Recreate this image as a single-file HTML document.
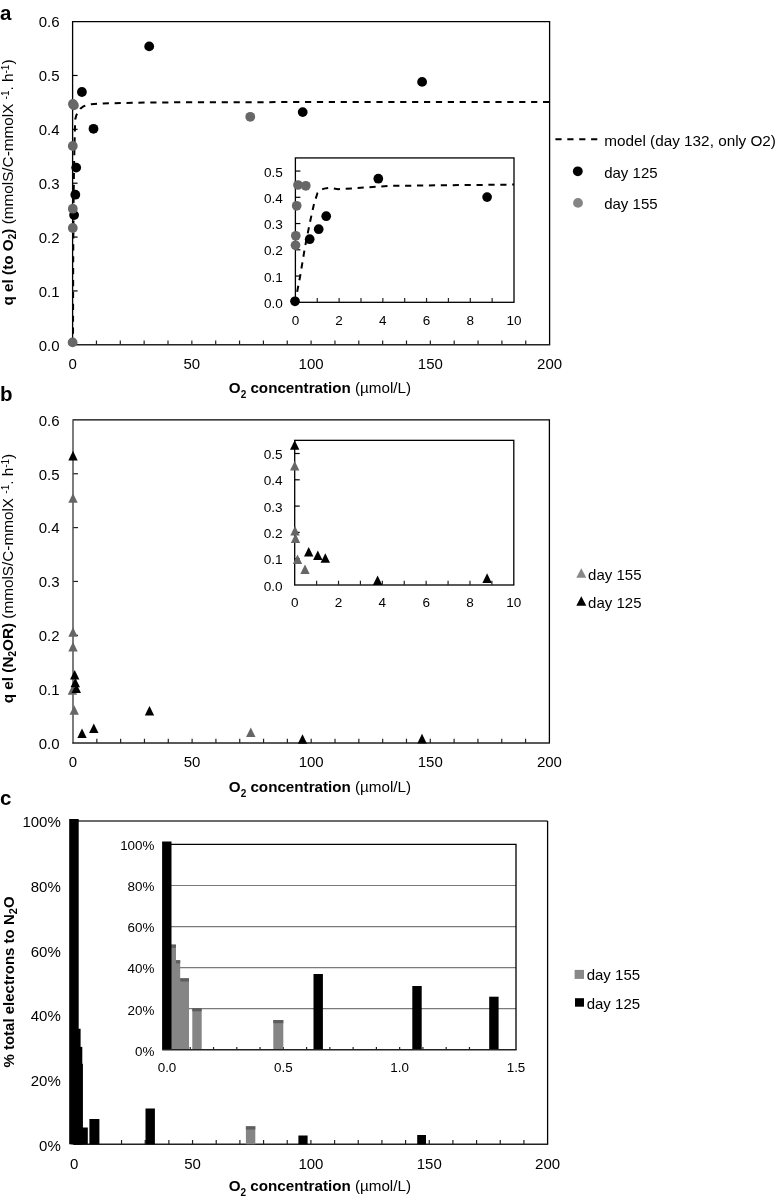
<!DOCTYPE html>
<html><head><meta charset="utf-8"><style>
html,body{margin:0;padding:0;background:#fff;}
svg{display:block;font-family:"Liberation Sans", sans-serif;will-change:transform;}
</style></head><body>
<svg width="780" height="1200" viewBox="0 0 780 1200">
<rect width="780" height="1200" fill="#fff"/>
<text x="0.1" y="19.6" font-size="20.5" text-anchor="start" font-weight="bold" fill="#000" >a</text>
<text x="59.6" y="350.6" font-size="15" text-anchor="end" font-weight="normal" fill="#000" >0.0</text>
<text x="59.6" y="296.73" font-size="15" text-anchor="end" font-weight="normal" fill="#000" >0.1</text>
<line x1="72.6" y1="290.93" x2="77.6" y2="290.93" stroke="#000" stroke-width="1.2" />
<text x="59.6" y="242.87" font-size="15" text-anchor="end" font-weight="normal" fill="#000" >0.2</text>
<line x1="72.6" y1="237.07" x2="77.6" y2="237.07" stroke="#000" stroke-width="1.2" />
<text x="59.6" y="189" font-size="15" text-anchor="end" font-weight="normal" fill="#000" >0.3</text>
<line x1="72.6" y1="183.2" x2="77.6" y2="183.2" stroke="#000" stroke-width="1.2" />
<text x="59.6" y="135.13" font-size="15" text-anchor="end" font-weight="normal" fill="#000" >0.4</text>
<line x1="72.6" y1="129.33" x2="77.6" y2="129.33" stroke="#000" stroke-width="1.2" />
<text x="59.6" y="81.27" font-size="15" text-anchor="end" font-weight="normal" fill="#000" >0.5</text>
<line x1="72.6" y1="75.47" x2="77.6" y2="75.47" stroke="#000" stroke-width="1.2" />
<text x="59.6" y="27.4" font-size="15" text-anchor="end" font-weight="normal" fill="#000" >0.6</text>
<line x1="96.45" y1="344.8" x2="96.45" y2="340.5" stroke="#222" stroke-width="1.2" />
<line x1="120.3" y1="344.8" x2="120.3" y2="340.5" stroke="#222" stroke-width="1.2" />
<line x1="144.15" y1="344.8" x2="144.15" y2="340.5" stroke="#222" stroke-width="1.2" />
<line x1="168" y1="344.8" x2="168" y2="340.5" stroke="#222" stroke-width="1.2" />
<line x1="191.85" y1="344.8" x2="191.85" y2="340.5" stroke="#222" stroke-width="1.2" />
<line x1="215.7" y1="344.8" x2="215.7" y2="340.5" stroke="#222" stroke-width="1.2" />
<line x1="239.55" y1="344.8" x2="239.55" y2="340.5" stroke="#222" stroke-width="1.2" />
<line x1="263.4" y1="344.8" x2="263.4" y2="340.5" stroke="#222" stroke-width="1.2" />
<line x1="287.25" y1="344.8" x2="287.25" y2="340.5" stroke="#222" stroke-width="1.2" />
<line x1="311.1" y1="344.8" x2="311.1" y2="340.5" stroke="#222" stroke-width="1.2" />
<line x1="334.95" y1="344.8" x2="334.95" y2="340.5" stroke="#222" stroke-width="1.2" />
<line x1="358.8" y1="344.8" x2="358.8" y2="340.5" stroke="#222" stroke-width="1.2" />
<line x1="382.65" y1="344.8" x2="382.65" y2="340.5" stroke="#222" stroke-width="1.2" />
<line x1="406.5" y1="344.8" x2="406.5" y2="340.5" stroke="#222" stroke-width="1.2" />
<line x1="430.35" y1="344.8" x2="430.35" y2="340.5" stroke="#222" stroke-width="1.2" />
<line x1="454.2" y1="344.8" x2="454.2" y2="340.5" stroke="#222" stroke-width="1.2" />
<line x1="478.05" y1="344.8" x2="478.05" y2="340.5" stroke="#222" stroke-width="1.2" />
<line x1="501.9" y1="344.8" x2="501.9" y2="340.5" stroke="#222" stroke-width="1.2" />
<line x1="525.75" y1="344.8" x2="525.75" y2="340.5" stroke="#222" stroke-width="1.2" />
<text x="72.6" y="369.4" font-size="15" text-anchor="middle" font-weight="normal" fill="#000" >0</text>
<text x="191.85" y="369.4" font-size="15" text-anchor="middle" font-weight="normal" fill="#000" >50</text>
<text x="311.1" y="369.4" font-size="15" text-anchor="middle" font-weight="normal" fill="#000" >100</text>
<text x="430.35" y="369.4" font-size="15" text-anchor="middle" font-weight="normal" fill="#000" >150</text>
<text x="549.6" y="369.4" font-size="15" text-anchor="middle" font-weight="normal" fill="#000" >200</text>
<path d="M72.6,344.8 L72.6,21.6 L549.6,21.6 L549.6,344.8" fill="none" stroke="#000" stroke-width="1.3"/>
<line x1="72" y1="344.8" x2="550.2" y2="344.8" stroke="#222" stroke-width="1.4" />
<text x="228.8" y="392.8" font-size="15.2"><tspan font-weight="bold">O<tspan font-size="10" dy="4.8">2</tspan><tspan dy="-4.8"> concentration</tspan></tspan> (µmol/L)</text>
<text transform="translate(12.9,182.5) rotate(-90)" font-size="15.3" text-anchor="middle"><tspan font-weight="bold">q el (to O<tspan font-size="10" dy="3.5">2</tspan><tspan dy="-3.5">)</tspan></tspan> (mmolS/C-mmolX <tspan font-size="10" dy="-4.4">-1</tspan><tspan dy="4.4">. h</tspan><tspan font-size="10" dy="-4.4">-1</tspan><tspan dy="4.4">)</tspan></text>
<path d="M73,344.8 L73.2,260 L73.6,200 L74,170 L74.5,145 L74.9,130 L75.2,119.5 L76.2,115.5 L77.6,112.6 L80.3,108.6 L83,106.6 L85.7,105.5 L91.2,104.3 L97.6,103.75 L103,103.5 L109.8,103.3 L150,102.5 L200,102.2 L300,102.1 L549.6,101.9" fill="none" stroke="#000" stroke-width="2" stroke-dasharray="6.2,5.7" stroke-dashoffset="0.87"/>
<circle cx="74.1" cy="215.1" r="4.9" fill="#000"/>
<circle cx="75.3" cy="194.7" r="4.9" fill="#000"/>
<circle cx="76.2" cy="167.6" r="4.9" fill="#000"/>
<circle cx="81.9" cy="92" r="4.9" fill="#000"/>
<circle cx="93.5" cy="128.8" r="4.9" fill="#000"/>
<circle cx="149.2" cy="46.4" r="4.9" fill="#000"/>
<circle cx="302.7" cy="112.1" r="4.9" fill="#000"/>
<circle cx="422.1" cy="81.9" r="4.9" fill="#000"/>
<circle cx="72.6" cy="342.4" r="4.9" fill="#676767"/>
<circle cx="72.8" cy="228" r="4.9" fill="#676767"/>
<circle cx="72.8" cy="208.7" r="4.9" fill="#676767"/>
<circle cx="72.8" cy="146" r="4.9" fill="#676767"/>
<circle cx="72.9" cy="104" r="4.9" fill="#676767"/>
<circle cx="73.9" cy="105.4" r="4.9" fill="#676767"/>
<circle cx="250.25" cy="116.8" r="4.9" fill="#676767"/>
<rect x="295.4" y="157.93" width="218.6" height="144.38" fill="#fff" stroke="#000" stroke-width="1.3"/>
<text x="282.8" y="307.9" font-size="13.6" text-anchor="end" font-weight="normal" fill="#000" >0.0</text>
<text x="282.8" y="281.65" font-size="13.6" text-anchor="end" font-weight="normal" fill="#000" >0.1</text>
<line x1="295.4" y1="276.05" x2="300.4" y2="276.05" stroke="#000" stroke-width="1.2" />
<text x="282.8" y="255.4" font-size="13.6" text-anchor="end" font-weight="normal" fill="#000" >0.2</text>
<line x1="295.4" y1="249.8" x2="300.4" y2="249.8" stroke="#000" stroke-width="1.2" />
<text x="282.8" y="229.15" font-size="13.6" text-anchor="end" font-weight="normal" fill="#000" >0.3</text>
<line x1="295.4" y1="223.55" x2="300.4" y2="223.55" stroke="#000" stroke-width="1.2" />
<text x="282.8" y="202.9" font-size="13.6" text-anchor="end" font-weight="normal" fill="#000" >0.4</text>
<line x1="295.4" y1="197.3" x2="300.4" y2="197.3" stroke="#000" stroke-width="1.2" />
<text x="282.8" y="176.65" font-size="13.6" text-anchor="end" font-weight="normal" fill="#000" >0.5</text>
<line x1="295.4" y1="171.05" x2="300.4" y2="171.05" stroke="#000" stroke-width="1.2" />
<line x1="317.26" y1="302.3" x2="317.26" y2="298" stroke="#222" stroke-width="1.2" />
<line x1="339.12" y1="302.3" x2="339.12" y2="298" stroke="#222" stroke-width="1.2" />
<line x1="360.98" y1="302.3" x2="360.98" y2="298" stroke="#222" stroke-width="1.2" />
<line x1="382.84" y1="302.3" x2="382.84" y2="298" stroke="#222" stroke-width="1.2" />
<line x1="404.7" y1="302.3" x2="404.7" y2="298" stroke="#222" stroke-width="1.2" />
<line x1="426.56" y1="302.3" x2="426.56" y2="298" stroke="#222" stroke-width="1.2" />
<line x1="448.42" y1="302.3" x2="448.42" y2="298" stroke="#222" stroke-width="1.2" />
<line x1="470.28" y1="302.3" x2="470.28" y2="298" stroke="#222" stroke-width="1.2" />
<line x1="492.14" y1="302.3" x2="492.14" y2="298" stroke="#222" stroke-width="1.2" />
<text x="295.4" y="325.2" font-size="13.5" text-anchor="middle" font-weight="normal" fill="#000" >0</text>
<text x="339.12" y="325.2" font-size="13.5" text-anchor="middle" font-weight="normal" fill="#000" >2</text>
<text x="382.84" y="325.2" font-size="13.5" text-anchor="middle" font-weight="normal" fill="#000" >4</text>
<text x="426.56" y="325.2" font-size="13.5" text-anchor="middle" font-weight="normal" fill="#000" >6</text>
<text x="470.28" y="325.2" font-size="13.5" text-anchor="middle" font-weight="normal" fill="#000" >8</text>
<text x="514" y="325.2" font-size="13.5" text-anchor="middle" font-weight="normal" fill="#000" >10</text>
<path d="M295.2,302.3 L297.5,290 L300,277 L305,247 L310,222 L314,204 L317.5,193 L320.5,190 L324,188.6 L328.3,188 L333,188.5 L338.3,189.2 L353.3,188.3 L388.3,185.9 L450,185.2 L514,184.6" fill="none" stroke="#000" stroke-width="2" stroke-dasharray="6.2,5.7" stroke-dashoffset="1.32"/>
<circle cx="298" cy="185" r="4.85" fill="#676767"/>
<circle cx="305.8" cy="185.8" r="4.85" fill="#676767"/>
<circle cx="296.7" cy="205.8" r="4.85" fill="#676767"/>
<circle cx="295.8" cy="235.8" r="4.85" fill="#676767"/>
<circle cx="295.5" cy="245.3" r="4.85" fill="#676767"/>
<circle cx="295" cy="301.3" r="4.85" fill="#000"/>
<circle cx="309.7" cy="239.2" r="4.85" fill="#000"/>
<circle cx="318.7" cy="229.2" r="4.85" fill="#000"/>
<circle cx="326.2" cy="216.2" r="4.85" fill="#000"/>
<circle cx="378.3" cy="178.7" r="4.85" fill="#000"/>
<circle cx="487.1" cy="197.1" r="4.85" fill="#000"/>
<line x1="555.4" y1="139.2" x2="597.6" y2="139.2" stroke="#000" stroke-width="2" stroke-dasharray="6.2,5.7"/>
<text x="604.2" y="146.4" font-size="15.3" text-anchor="start" font-weight="normal" fill="#000" >model (day 132, only O2)</text>
<circle cx="577.8" cy="171.3" r="4.9" fill="#000"/>
<text x="604.2" y="177.8" font-size="15" text-anchor="start" font-weight="normal" fill="#000" >day 125</text>
<circle cx="578" cy="202.9" r="4.9" fill="#858585"/>
<text x="604.2" y="209.3" font-size="15" text-anchor="start" font-weight="normal" fill="#000" >day 155</text>
<text x="0.1" y="400.6" font-size="20.5" text-anchor="start" font-weight="bold" fill="#000" >b</text>
<text x="59.6" y="748.8" font-size="15" text-anchor="end" font-weight="normal" fill="#000" >0.0</text>
<text x="59.6" y="694.95" font-size="15" text-anchor="end" font-weight="normal" fill="#000" >0.1</text>
<line x1="73" y1="689.15" x2="78" y2="689.15" stroke="#222" stroke-width="1.2" />
<text x="59.6" y="641.1" font-size="15" text-anchor="end" font-weight="normal" fill="#000" >0.2</text>
<line x1="73" y1="635.3" x2="78" y2="635.3" stroke="#222" stroke-width="1.2" />
<text x="59.6" y="587.25" font-size="15" text-anchor="end" font-weight="normal" fill="#000" >0.3</text>
<line x1="73" y1="581.45" x2="78" y2="581.45" stroke="#222" stroke-width="1.2" />
<text x="59.6" y="533.4" font-size="15" text-anchor="end" font-weight="normal" fill="#000" >0.4</text>
<line x1="73" y1="527.6" x2="78" y2="527.6" stroke="#222" stroke-width="1.2" />
<text x="59.6" y="479.55" font-size="15" text-anchor="end" font-weight="normal" fill="#000" >0.5</text>
<line x1="73" y1="473.75" x2="78" y2="473.75" stroke="#222" stroke-width="1.2" />
<text x="59.6" y="425.7" font-size="15" text-anchor="end" font-weight="normal" fill="#000" >0.6</text>
<line x1="96.82" y1="743" x2="96.82" y2="738.7" stroke="#222" stroke-width="1.2" />
<line x1="120.64" y1="743" x2="120.64" y2="738.7" stroke="#222" stroke-width="1.2" />
<line x1="144.46" y1="743" x2="144.46" y2="738.7" stroke="#222" stroke-width="1.2" />
<line x1="168.28" y1="743" x2="168.28" y2="738.7" stroke="#222" stroke-width="1.2" />
<line x1="192.1" y1="743" x2="192.1" y2="738.7" stroke="#222" stroke-width="1.2" />
<line x1="215.92" y1="743" x2="215.92" y2="738.7" stroke="#222" stroke-width="1.2" />
<line x1="239.74" y1="743" x2="239.74" y2="738.7" stroke="#222" stroke-width="1.2" />
<line x1="263.56" y1="743" x2="263.56" y2="738.7" stroke="#222" stroke-width="1.2" />
<line x1="287.38" y1="743" x2="287.38" y2="738.7" stroke="#222" stroke-width="1.2" />
<line x1="311.2" y1="743" x2="311.2" y2="738.7" stroke="#222" stroke-width="1.2" />
<line x1="335.02" y1="743" x2="335.02" y2="738.7" stroke="#222" stroke-width="1.2" />
<line x1="358.84" y1="743" x2="358.84" y2="738.7" stroke="#222" stroke-width="1.2" />
<line x1="382.66" y1="743" x2="382.66" y2="738.7" stroke="#222" stroke-width="1.2" />
<line x1="406.48" y1="743" x2="406.48" y2="738.7" stroke="#222" stroke-width="1.2" />
<line x1="430.3" y1="743" x2="430.3" y2="738.7" stroke="#222" stroke-width="1.2" />
<line x1="454.12" y1="743" x2="454.12" y2="738.7" stroke="#222" stroke-width="1.2" />
<line x1="477.94" y1="743" x2="477.94" y2="738.7" stroke="#222" stroke-width="1.2" />
<line x1="501.76" y1="743" x2="501.76" y2="738.7" stroke="#222" stroke-width="1.2" />
<line x1="525.58" y1="743" x2="525.58" y2="738.7" stroke="#222" stroke-width="1.2" />
<text x="73" y="767.2" font-size="15" text-anchor="middle" font-weight="normal" fill="#000" >0</text>
<text x="192.1" y="767.2" font-size="15" text-anchor="middle" font-weight="normal" fill="#000" >50</text>
<text x="311.2" y="767.2" font-size="15" text-anchor="middle" font-weight="normal" fill="#000" >100</text>
<text x="430.3" y="767.2" font-size="15" text-anchor="middle" font-weight="normal" fill="#000" >150</text>
<text x="549.4" y="767.2" font-size="15" text-anchor="middle" font-weight="normal" fill="#000" >200</text>
<path d="M73.0,419.9 L549.4,419.9 L549.4,743.0" fill="none" stroke="#000" stroke-width="1.3"/>
<line x1="73" y1="743.6" x2="73" y2="419.3" stroke="#444" stroke-width="1.4" />
<line x1="72.4" y1="743" x2="550" y2="743" stroke="#222" stroke-width="1.4" />
<text x="228.8" y="791.8" font-size="15.2"><tspan font-weight="bold">O<tspan font-size="10" dy="4.8">2</tspan><tspan dy="-4.8"> concentration</tspan></tspan> (µmol/L)</text>
<text transform="translate(12.9,578.5) rotate(-90)" font-size="15.3" text-anchor="middle"><tspan font-weight="bold">q el (N<tspan font-size="10" dy="3.5">2</tspan><tspan dy="-3.5">OR)</tspan></tspan> (mmolS/C-mmolX <tspan font-size="10" dy="-4.4">-1</tspan><tspan dy="4.4">. h</tspan><tspan font-size="10" dy="-4.4">-1</tspan><tspan dy="4.4">)</tspan></text>
<polygon points="68.3,636.8 77.7,636.8 73,627.2" fill="#666"/>
<polygon points="68.3,651.5 77.7,651.5 73,641.9" fill="#666"/>
<polygon points="67.7,694.8 77.1,694.8 72.4,685.2" fill="#666"/>
<polygon points="69.5,714.8 78.9,714.8 74.2,705.2" fill="#666"/>
<polygon points="246.1,737 255.5,737 250.8,727.4" fill="#666"/>
<polygon points="68.3,502.8 77.7,502.8 73,493.2" fill="#666"/>
<polygon points="68.3,460.4 77.7,460.4 73,450.8" fill="#000"/>
<polygon points="70,679.5 79.4,679.5 74.7,669.9" fill="#000"/>
<polygon points="70.6,687.3 80,687.3 75.3,677.7" fill="#000"/>
<polygon points="71.6,693.1 81,693.1 76.3,683.5" fill="#000"/>
<polygon points="77.3,738.1 86.7,738.1 82,728.5" fill="#000"/>
<polygon points="89.1,733.1 98.5,733.1 93.8,723.5" fill="#000"/>
<polygon points="144.8,715.6 154.2,715.6 149.5,706" fill="#000"/>
<polygon points="297.8,743.8 307.2,743.8 302.5,734.2" fill="#000"/>
<polygon points="417.3,743.4 426.7,743.4 422,733.8" fill="#000"/>
<rect x="294.7" y="440.35" width="219.1" height="144.65" fill="#fff" stroke="#000" stroke-width="1.3"/>
<text x="282.6" y="590.6" font-size="13.6" text-anchor="end" font-weight="normal" fill="#000" >0.0</text>
<text x="282.6" y="564.3" font-size="13.6" text-anchor="end" font-weight="normal" fill="#000" >0.1</text>
<line x1="294.7" y1="558.7" x2="299.7" y2="558.7" stroke="#000" stroke-width="1.2" />
<text x="282.6" y="538" font-size="13.6" text-anchor="end" font-weight="normal" fill="#000" >0.2</text>
<line x1="294.7" y1="532.4" x2="299.7" y2="532.4" stroke="#000" stroke-width="1.2" />
<text x="282.6" y="511.7" font-size="13.6" text-anchor="end" font-weight="normal" fill="#000" >0.3</text>
<line x1="294.7" y1="506.1" x2="299.7" y2="506.1" stroke="#000" stroke-width="1.2" />
<text x="282.6" y="485.4" font-size="13.6" text-anchor="end" font-weight="normal" fill="#000" >0.4</text>
<line x1="294.7" y1="479.8" x2="299.7" y2="479.8" stroke="#000" stroke-width="1.2" />
<text x="282.6" y="459.1" font-size="13.6" text-anchor="end" font-weight="normal" fill="#000" >0.5</text>
<line x1="294.7" y1="453.5" x2="299.7" y2="453.5" stroke="#000" stroke-width="1.2" />
<line x1="316.61" y1="585" x2="316.61" y2="580.7" stroke="#222" stroke-width="1.2" />
<line x1="338.52" y1="585" x2="338.52" y2="580.7" stroke="#222" stroke-width="1.2" />
<line x1="360.43" y1="585" x2="360.43" y2="580.7" stroke="#222" stroke-width="1.2" />
<line x1="382.34" y1="585" x2="382.34" y2="580.7" stroke="#222" stroke-width="1.2" />
<line x1="404.25" y1="585" x2="404.25" y2="580.7" stroke="#222" stroke-width="1.2" />
<line x1="426.16" y1="585" x2="426.16" y2="580.7" stroke="#222" stroke-width="1.2" />
<line x1="448.07" y1="585" x2="448.07" y2="580.7" stroke="#222" stroke-width="1.2" />
<line x1="469.98" y1="585" x2="469.98" y2="580.7" stroke="#222" stroke-width="1.2" />
<line x1="491.89" y1="585" x2="491.89" y2="580.7" stroke="#222" stroke-width="1.2" />
<text x="294.7" y="607" font-size="13.5" text-anchor="middle" font-weight="normal" fill="#000" >0</text>
<text x="338.52" y="607" font-size="13.5" text-anchor="middle" font-weight="normal" fill="#000" >2</text>
<text x="382.34" y="607" font-size="13.5" text-anchor="middle" font-weight="normal" fill="#000" >4</text>
<text x="426.16" y="607" font-size="13.5" text-anchor="middle" font-weight="normal" fill="#000" >6</text>
<text x="469.98" y="607" font-size="13.5" text-anchor="middle" font-weight="normal" fill="#000" >8</text>
<text x="513.8" y="607" font-size="13.5" text-anchor="middle" font-weight="normal" fill="#000" >10</text>
<polygon points="290,470.6 299.4,470.6 294.7,461" fill="#666"/>
<polygon points="290.3,535.6 299.7,535.6 295,526" fill="#666"/>
<polygon points="290.8,543.1 300.2,543.1 295.5,533.5" fill="#666"/>
<polygon points="292.8,564 302.2,564 297.5,554.4" fill="#666"/>
<polygon points="300.3,574 309.7,574 305,564.4" fill="#666"/>
<polygon points="290,449.8 299.4,449.8 294.7,440.2" fill="#000"/>
<polygon points="304,556.5 313.4,556.5 308.7,546.9" fill="#000"/>
<polygon points="313.1,560.1 322.5,560.1 317.8,550.5" fill="#000"/>
<polygon points="320.6,562.8 330,562.8 325.3,553.2" fill="#000"/>
<polygon points="372.9,585 382.3,585 377.6,575.4" fill="#000"/>
<polygon points="482.4,582.9 491.8,582.9 487.1,573.3" fill="#000"/>
<polygon points="576.3,577.75 586.3,577.75 581.3,568.25" fill="#888"/>
<text x="588.1" y="579.6" font-size="15" text-anchor="start" font-weight="normal" fill="#000" >day 155</text>
<polygon points="576.3,605.75 586.3,605.75 581.3,596.25" fill="#000"/>
<text x="588.1" y="607.8" font-size="15" text-anchor="start" font-weight="normal" fill="#000" >day 125</text>
<text x="0.1" y="804.6" font-size="20.5" text-anchor="start" font-weight="bold" fill="#000" >c</text>
<text x="60.8" y="1150.7" font-size="15" text-anchor="end" font-weight="normal" fill="#000" >0%</text>
<text x="60.8" y="1086.04" font-size="15" text-anchor="end" font-weight="normal" fill="#000" >20%</text>
<text x="60.8" y="1021.38" font-size="15" text-anchor="end" font-weight="normal" fill="#000" >40%</text>
<text x="60.8" y="956.72" font-size="15" text-anchor="end" font-weight="normal" fill="#000" >60%</text>
<text x="60.8" y="892.06" font-size="15" text-anchor="end" font-weight="normal" fill="#000" >80%</text>
<text x="60.8" y="827.4" font-size="15" text-anchor="end" font-weight="normal" fill="#000" >100%</text>
<line x1="97.87" y1="1144.3" x2="97.87" y2="1140" stroke="#222" stroke-width="1.2" />
<line x1="121.54" y1="1144.3" x2="121.54" y2="1140" stroke="#222" stroke-width="1.2" />
<line x1="145.21" y1="1144.3" x2="145.21" y2="1140" stroke="#222" stroke-width="1.2" />
<line x1="168.88" y1="1144.3" x2="168.88" y2="1140" stroke="#222" stroke-width="1.2" />
<line x1="192.55" y1="1144.3" x2="192.55" y2="1140" stroke="#222" stroke-width="1.2" />
<line x1="216.22" y1="1144.3" x2="216.22" y2="1140" stroke="#222" stroke-width="1.2" />
<line x1="239.89" y1="1144.3" x2="239.89" y2="1140" stroke="#222" stroke-width="1.2" />
<line x1="263.56" y1="1144.3" x2="263.56" y2="1140" stroke="#222" stroke-width="1.2" />
<line x1="287.23" y1="1144.3" x2="287.23" y2="1140" stroke="#222" stroke-width="1.2" />
<line x1="310.9" y1="1144.3" x2="310.9" y2="1140" stroke="#222" stroke-width="1.2" />
<line x1="334.57" y1="1144.3" x2="334.57" y2="1140" stroke="#222" stroke-width="1.2" />
<line x1="358.24" y1="1144.3" x2="358.24" y2="1140" stroke="#222" stroke-width="1.2" />
<line x1="381.91" y1="1144.3" x2="381.91" y2="1140" stroke="#222" stroke-width="1.2" />
<line x1="405.58" y1="1144.3" x2="405.58" y2="1140" stroke="#222" stroke-width="1.2" />
<line x1="429.25" y1="1144.3" x2="429.25" y2="1140" stroke="#222" stroke-width="1.2" />
<line x1="452.92" y1="1144.3" x2="452.92" y2="1140" stroke="#222" stroke-width="1.2" />
<line x1="476.59" y1="1144.3" x2="476.59" y2="1140" stroke="#222" stroke-width="1.2" />
<line x1="500.26" y1="1144.3" x2="500.26" y2="1140" stroke="#222" stroke-width="1.2" />
<line x1="523.93" y1="1144.3" x2="523.93" y2="1140" stroke="#222" stroke-width="1.2" />
<text x="74.2" y="1169" font-size="15" text-anchor="middle" font-weight="normal" fill="#000" >0</text>
<text x="192.55" y="1169" font-size="15" text-anchor="middle" font-weight="normal" fill="#000" >50</text>
<text x="310.9" y="1169" font-size="15" text-anchor="middle" font-weight="normal" fill="#000" >100</text>
<text x="429.25" y="1169" font-size="15" text-anchor="middle" font-weight="normal" fill="#000" >150</text>
<text x="547.6" y="1169" font-size="15" text-anchor="middle" font-weight="normal" fill="#000" >200</text>
<path d="M74.2,821.0 L547.6,821.0" fill="none" stroke="#3a3a3a" stroke-width="1.3"/>
<path d="M547.6,821.0 L547.6,1144.3" fill="none" stroke="#000" stroke-width="1.3"/>
<line x1="74.2" y1="1144.3" x2="74.2" y2="821" stroke="#222" stroke-width="1.3" />
<line x1="73.6" y1="1144.3" x2="548.2" y2="1144.3" stroke="#222" stroke-width="1.4" />
<text x="228.7" y="1190.8" font-size="15.2"><tspan font-weight="bold">O<tspan font-size="10" dy="4.8">2</tspan><tspan dy="-4.8"> concentration</tspan></tspan> (µmol/L)</text>
<text transform="translate(13.8,982) rotate(-90)" font-size="15" text-anchor="middle" font-weight="bold">% total electrons to N<tspan font-size="11" dy="3.5">2</tspan><tspan dy="-3.5">O</tspan></text>
<rect x="245.9" y="1126.3" width="9.4" height="18" fill="#858585" />
<rect x="245.9" y="1126.3" width="9.4" height="3.2" fill="#5e5e5e" />
<rect x="69.2" y="819" width="9.5" height="325.3" fill="#000" />
<rect x="71" y="1028.75" width="9.6" height="115.55" fill="#000" />
<rect x="72.7" y="1046.9" width="9.6" height="97.4" fill="#000" />
<rect x="73.3" y="1063.75" width="9.6" height="80.55" fill="#000" />
<rect x="78.3" y="1127.5" width="9.5" height="16.8" fill="#000" />
<rect x="89.4" y="1119" width="10" height="25.3" fill="#000" />
<rect x="145.5" y="1108.5" width="9.4" height="35.8" fill="#000" />
<rect x="298.4" y="1135.5" width="9.2" height="8.8" fill="#000" />
<rect x="417.2" y="1135" width="8.8" height="9.3" fill="#000" />
<rect x="162.2" y="844.4" width="353.8" height="205.4" fill="#fff" />
<text x="154.4" y="1055.6" font-size="13.4" text-anchor="end" font-weight="normal" fill="#000" >0%</text>
<text x="154.4" y="1014.52" font-size="13.4" text-anchor="end" font-weight="normal" fill="#000" >20%</text>
<line x1="167" y1="1008.72" x2="516" y2="1008.72" stroke="#7a7a7a" stroke-width="1.2" />
<text x="154.4" y="973.44" font-size="13.4" text-anchor="end" font-weight="normal" fill="#000" >40%</text>
<line x1="167" y1="967.64" x2="516" y2="967.64" stroke="#7a7a7a" stroke-width="1.2" />
<text x="154.4" y="932.36" font-size="13.4" text-anchor="end" font-weight="normal" fill="#000" >60%</text>
<line x1="167" y1="926.56" x2="516" y2="926.56" stroke="#7a7a7a" stroke-width="1.2" />
<text x="154.4" y="891.28" font-size="13.4" text-anchor="end" font-weight="normal" fill="#000" >80%</text>
<line x1="167" y1="885.48" x2="516" y2="885.48" stroke="#7a7a7a" stroke-width="1.2" />
<text x="154.4" y="850.2" font-size="13.4" text-anchor="end" font-weight="normal" fill="#000" >100%</text>
<path d="M167.0,844.4 L516.0,844.4 L516.0,1049.8" fill="none" stroke="#000" stroke-width="1.3"/>
<line x1="190.27" y1="1049.8" x2="190.27" y2="1047" stroke="#222" stroke-width="1.2" />
<line x1="213.53" y1="1049.8" x2="213.53" y2="1047" stroke="#222" stroke-width="1.2" />
<line x1="236.8" y1="1049.8" x2="236.8" y2="1047" stroke="#222" stroke-width="1.2" />
<line x1="260.07" y1="1049.8" x2="260.07" y2="1047" stroke="#222" stroke-width="1.2" />
<line x1="283.33" y1="1049.8" x2="283.33" y2="1047" stroke="#222" stroke-width="1.2" />
<line x1="306.6" y1="1049.8" x2="306.6" y2="1047" stroke="#222" stroke-width="1.2" />
<line x1="329.87" y1="1049.8" x2="329.87" y2="1047" stroke="#222" stroke-width="1.2" />
<line x1="353.13" y1="1049.8" x2="353.13" y2="1047" stroke="#222" stroke-width="1.2" />
<line x1="376.4" y1="1049.8" x2="376.4" y2="1047" stroke="#222" stroke-width="1.2" />
<line x1="399.67" y1="1049.8" x2="399.67" y2="1047" stroke="#222" stroke-width="1.2" />
<line x1="422.93" y1="1049.8" x2="422.93" y2="1047" stroke="#222" stroke-width="1.2" />
<line x1="446.2" y1="1049.8" x2="446.2" y2="1047" stroke="#222" stroke-width="1.2" />
<line x1="469.47" y1="1049.8" x2="469.47" y2="1047" stroke="#222" stroke-width="1.2" />
<line x1="492.73" y1="1049.8" x2="492.73" y2="1047" stroke="#222" stroke-width="1.2" />
<text x="167" y="1072" font-size="13.4" text-anchor="middle" font-weight="normal" fill="#000" >0.0</text>
<text x="283.33" y="1072" font-size="13.4" text-anchor="middle" font-weight="normal" fill="#000" >0.5</text>
<text x="399.67" y="1072" font-size="13.4" text-anchor="middle" font-weight="normal" fill="#000" >1.0</text>
<text x="516" y="1072" font-size="13.4" text-anchor="middle" font-weight="normal" fill="#000" >1.5</text>
<rect x="273.3" y="1020" width="10" height="29.8" fill="#858585" />
<rect x="273.3" y="1020" width="10" height="3.2" fill="#5e5e5e" />
<rect x="192.3" y="1008.1" width="9.4" height="41.7" fill="#858585" />
<rect x="192.3" y="1008.1" width="9.4" height="3.2" fill="#5e5e5e" />
<rect x="179.6" y="978.3" width="9.4" height="71.5" fill="#858585" />
<rect x="179.6" y="978.3" width="9.4" height="3.2" fill="#5e5e5e" />
<rect x="170.8" y="960.2" width="9.4" height="89.6" fill="#858585" />
<rect x="170.8" y="960.2" width="9.4" height="3.2" fill="#5e5e5e" />
<rect x="166.6" y="944.6" width="9.4" height="105.2" fill="#858585" />
<rect x="166.6" y="944.6" width="9.4" height="3.2" fill="#5e5e5e" />
<rect x="162.1" y="841.5" width="9.4" height="208.3" fill="#000" />
<rect x="313.5" y="974" width="9.4" height="75.8" fill="#000" />
<rect x="412.3" y="986" width="9.4" height="63.8" fill="#000" />
<rect x="489.2" y="996.7" width="9.4" height="53.1" fill="#000" />
<line x1="162.2" y1="1049.8" x2="516.6" y2="1049.8" stroke="#222" stroke-width="1.4" />
<rect x="574.6" y="969.9" width="9.4" height="9" fill="#888" />
<text x="586.7" y="980.1" font-size="15" text-anchor="start" font-weight="normal" fill="#000" >day 155</text>
<rect x="575" y="998.2" width="9" height="8.5" fill="#000" />
<text x="586.7" y="1008.5" font-size="15" text-anchor="start" font-weight="normal" fill="#000" >day 125</text>
</svg>
</body></html>
